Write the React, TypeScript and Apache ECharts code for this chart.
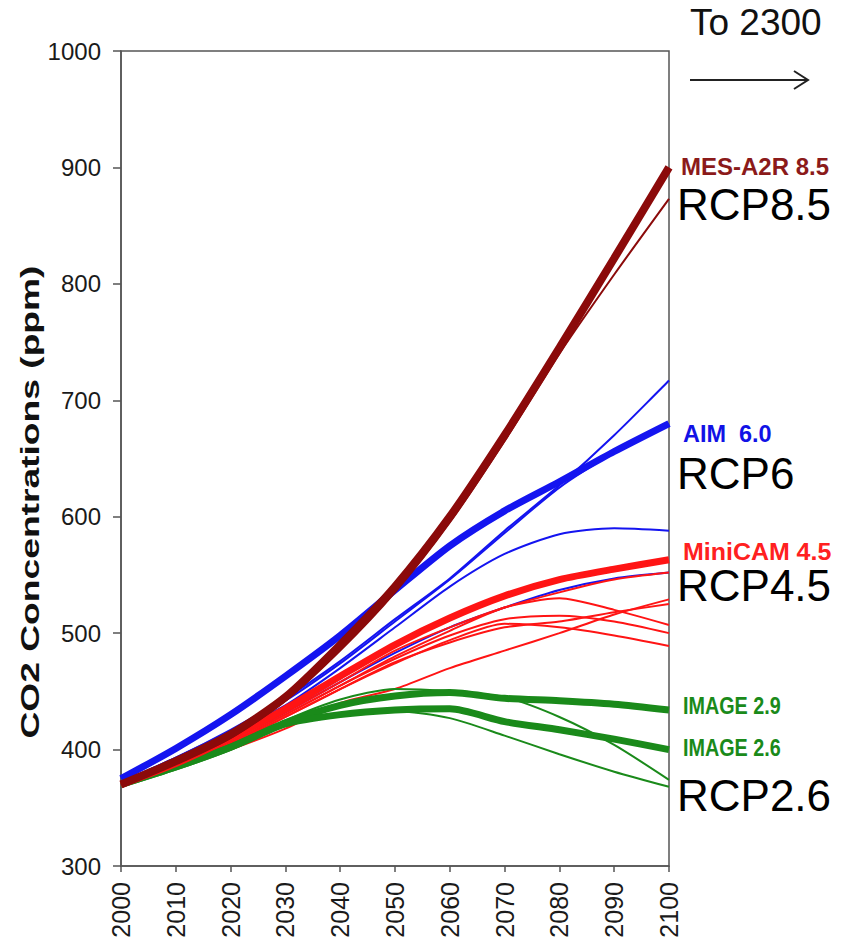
import React, { useEffect, useRef } from "react";
import * as echarts from "echarts";

const years = [2000, 2010, 2020, 2030, 2040, 2050, 2060, 2070, 2080, 2090, 2100];
const yTicks = [300, 400, 500, 600, 700, 800, 900, 1000];

// RCP8.5 family
const mesA2R85 = [370, 390, 413, 445, 490, 540, 600, 670, 745, 822, 900];
const rcp85Other = [370, 388, 410, 442, 485, 535, 595, 665, 740, 808, 873];

// RCP6 family
const aim60 = [375, 401, 430, 463, 498, 537, 575, 605, 630, 656, 680];
const rcp6A = [372, 393, 417, 444, 476, 512, 547, 588, 627, 670, 717];
const rcp6B = [372, 393, 416, 442, 474, 510, 546, 586, 625, 655, 680];
const rcp6C = [371, 391, 414, 438, 470, 505, 540, 568, 585, 590, 588];
const rcp6D = [370, 389, 408, 432, 458, 483, 505, 522, 537, 547, 552];

// RCP4.5 family
const miniCam45 = [370, 388, 410, 435, 463, 490, 513, 532, 546, 555, 563];
const rcp45A = [370, 388, 408, 432, 458, 485, 505, 522, 535, 546, 552];
const rcp45B = [369, 384, 400, 418, 440, 452, 470, 485, 500, 516, 529];
const rcp45C = [370, 387, 405, 428, 452, 475, 492, 505, 510, 518, 525];
const rcp45D = [370, 387, 406, 430, 455, 480, 502, 522, 530, 520, 507];
const rcp45E = [370, 387, 406, 430, 455, 478, 498, 512, 515, 510, 500];
const rcp45F = [370, 387, 405, 428, 452, 474, 494, 508, 505, 498, 489];

// RCP2.6 family
const image29 = [370, 385, 402, 423, 438, 446, 449, 444, 442, 439, 434];
const image26 = [370, 385, 402, 422, 430, 434, 435, 424, 417, 409, 400];
const rcp26A = [370, 385, 402, 425, 443, 452, 450, 445, 428, 404, 374];
const rcp26B = [370, 385, 402, 422, 430, 433, 427, 412, 396, 381, 368];

const DARKRED = "#8b0a0a";
const BLUE = "#1414f0";
const RED = "#ff1414";
const GREEN = "#1a8a1a";

const pairs = (vals: number[]) => years.map((y, i) => [y, vals[i]]);

const line = (name: string, vals: number[], color: string, width: number) => ({
  type: "line",
  name,
  data: pairs(vals),
  showSymbol: false,
  symbol: "none",
  smooth: 0.25,
  lineStyle: { color, width },
  itemStyle: { color },
  emphasis: { disabled: true },
  z: 2,
});

export default function App() {
  const ref = useRef<HTMLDivElement>(null);
  useEffect(() => {
    if (!ref.current) return;
    const chart = echarts.init(ref.current, null, { renderer: "svg" });
    const font = "Liberation Sans, Arial, sans-serif";
    const label = (
      text: string,
      x: number,
      y: number,
      size: number,
      color: string,
      bold: boolean,
      scaleX = 1
    ) => ({
      type: "text",
      x,
      y,
      scaleX,
      style: {
        text,
        font: `${bold ? "bold " : ""}${size}px ${font}`,
        fill: color,
        align: "left",
        verticalAlign: "middle",
      },
    });
    chart.setOption({
      animation: false,
      backgroundColor: "#ffffff",
      grid: {
        left: 121,
        right: 187,
        top: 51,
        bottom: 78,
        show: true,
        borderColor: "#555",
        borderWidth: 1.5,
        backgroundColor: "transparent",
      },
      xAxis: {
        type: "value",
        min: 2000,
        max: 2100,
        interval: 10,
        splitLine: { show: false },
        axisLine: { show: true, lineStyle: { color: "#555", width: 1.5 } },
        axisTick: { show: true, length: 6, lineStyle: { color: "#555", width: 1.5 } },
        axisLabel: {
          rotate: 90,
          margin: 16,
          fontSize: 25,
          fontFamily: font,
          color: "#1a1a1a",
          formatter: (v: number) => String(v),
        },
      },
      yAxis: {
        type: "value",
        min: 300,
        max: 1000,
        interval: 100,
        splitLine: { show: false },
        axisLine: { show: true, lineStyle: { color: "#555", width: 1.5 } },
        axisTick: { show: true, length: 8, lineStyle: { color: "#555", width: 1.5 } },
        axisLabel: {
          margin: 20,
          fontSize: 24,
          fontFamily: font,
          color: "#1a1a1a",
          formatter: (v: number) => (yTicks.includes(v) ? String(v) : ""),
        },
      },
      series: [
        line("RCP6 other A", rcp6A, BLUE, 2),
        line("RCP6 other B", rcp6B, BLUE, 2),
        line("RCP6 other C", rcp6C, BLUE, 2),
        line("RCP6 other D", rcp6D, BLUE, 2),
        line("RCP4.5 other A", rcp45A, RED, 2),
        line("RCP4.5 other B", rcp45B, RED, 2),
        line("RCP4.5 other C", rcp45C, RED, 2),
        line("RCP4.5 other D", rcp45D, RED, 2),
        line("RCP4.5 other E", rcp45E, RED, 2),
        line("RCP4.5 other F", rcp45F, RED, 2),
        line("RCP2.6 other A", rcp26A, GREEN, 2),
        line("RCP2.6 other B", rcp26B, GREEN, 2),
        line("IMAGE 2.9", image29, GREEN, 7),
        line("IMAGE 2.6", image26, GREEN, 7),
        line("MiniCAM 4.5", miniCam45, RED, 7),
        line("AIM 6.0", aim60, BLUE, 7),
        line("RCP8.5 other", rcp85Other, DARKRED, 2),
        line("MES-A2R 8.5", mesA2R85, DARKRED, 8),
      ],
      graphic: [
        {
          type: "text",
          x: 30,
          y: 502,
          rotation: Math.PI / 2,
          scaleX: 1.43,
          style: {
            text: "CO2 Concentrations (ppm)",
            font: `bold 26px ${font}`,
            fill: "#111",
            align: "center",
            verticalAlign: "middle",
          },
        },
        label("To 2300", 690, 22, 37, "#111", false),
        {
          type: "line",
          shape: { x1: 690, y1: 80, x2: 808, y2: 80 },
          style: { stroke: "#222", lineWidth: 2 },
        },
        {
          type: "polyline",
          shape: { points: [[794, 71], [808, 80], [794, 89]] },
          style: { stroke: "#222", lineWidth: 2, fill: "none" },
        },
        label("MES-A2R 8.5", 681, 166, 24, "#8b1a1a", true, 1.0),
        label("RCP8.5", 677, 204, 44, "#000", false),
        label("AIM  6.0", 683, 434, 23, "#1212e6", true, 1.02),
        label("RCP6", 677, 473, 44, "#000", false),
        label("MiniCAM 4.5", 683, 552, 24, "#ff2020", true, 1.04),
        label("RCP4.5", 677, 585, 44, "#000", false),
        label("IMAGE 2.9", 683, 706, 23, "#1a8a1a", true, 0.86),
        label("IMAGE 2.6", 683, 748, 23, "#1a8a1a", true, 0.86),
        label("RCP2.6", 677, 795, 44, "#000", false),
      ],
    });
    return () => chart.dispose();
  }, []);
  return (
    <div
      ref={ref}
      style={{ position: "absolute", left: 0, top: 0, width: 856, height: 944, background: "#fff" }}
    />
  );
}
